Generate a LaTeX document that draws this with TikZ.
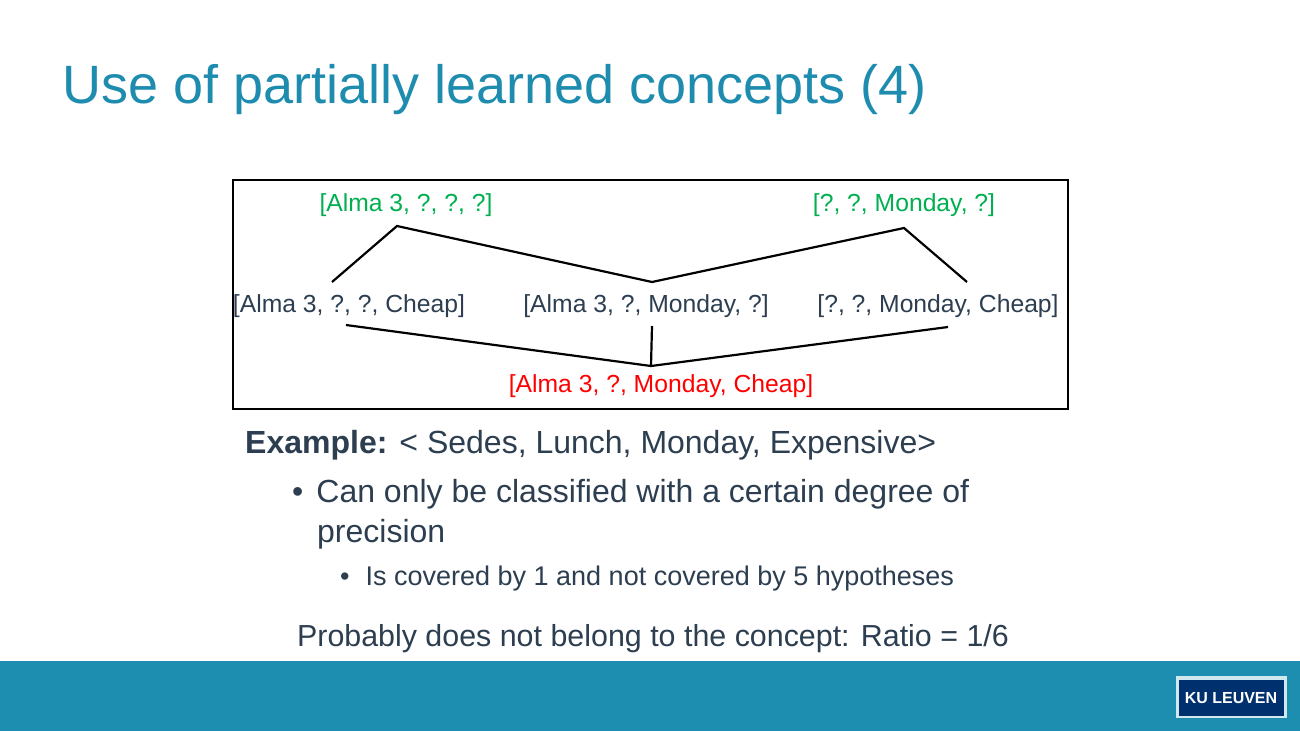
\documentclass[tikz,border=0pt]{standalone}
\usepackage{fontspec}
\setmainfont{Liberation Sans}
\begin{document}
\begin{tikzpicture}[x=1pt,y=-1pt,
  lbl/.style={anchor=center,inner sep=0pt,font=\fontsize{24.7}{28}\selectfont},
  ln/.style={line width=2.2pt,black},
  body/.style={anchor=west,inner sep=0pt,text=slate}]
\definecolor{teal}{RGB}{30,140,175}
\definecolor{slate}{RGB}{44,62,80}
\definecolor{grn}{RGB}{0,176,80}
\definecolor{kub}{RGB}{29,141,176}
\definecolor{kud}{RGB}{0,48,110}
\useasboundingbox (0,0) rectangle (1300,731);
\fill[white] (0,0) rectangle (1300,731);
\fill[kub] (0,661) rectangle (1300,731);
\node[body,text=teal,font=\fontsize{54}{58}\selectfont] (title) at (62,90) {Use of partially learned concepts (4)};
\draw[line width=2pt] (233,180) rectangle (1068,409);
\node[lbl,text=grn] (g1) at (406,205) {[Alma 3, ?, ?, ?]};
\node[lbl,text=grn] (g2) at (904,205) {[?, ?, Monday, ?]};
\node[lbl,text=slate] (m1) at (349,306) {[Alma 3, ?, ?, Cheap]};
\node[lbl,text=slate] (m2) at (646,306) {[Alma 3, ?, Monday, ?]};
\node[lbl,text=slate] (m3) at (938,306) {[?, ?, Monday, Cheap]};
\node[lbl,text=red] (s) at (661,386) {[Alma 3, ?, Monday, Cheap]};
\coordinate (ga) at (397,226); \coordinate (gb) at (904,228);
\coordinate (mt) at (652,282);
\coordinate (a1) at (332,282); \coordinate (a3) at (967,282);
\coordinate (b1) at (346,325); \coordinate (b2) at (652,326); \coordinate (b3) at (948,327);
\coordinate (sb) at (651,366);
\draw[ln] (a1) -- (ga) -- (mt) -- (gb) -- (a3);
\draw[ln] (b1) -- (sb) -- (b3);
\draw[ln] (b2) -- (sb);
\node[body,font=\fontsize{32}{36}\selectfont] (ex) at (245,445) {\textbf{Example:}\hspace{12pt}< Sedes, Lunch, Monday, Expensive>};
\node[body,font=\fontsize{32}{36}\selectfont] (b1t) at (292,494) {•\hspace{13pt}Can only be classified with a certain degree of};
\node[body,font=\fontsize{32}{36}\selectfont] (b1u) at (317,534) {precision};
\node[body,font=\fontsize{27}{30}\selectfont] (b2t) at (340,579) {•\hspace{16pt}Is covered by 1 and not covered by 5 hypotheses};
\node[anchor=center,inner sep=0pt,text=slate,font=\fontsize{30.4}{34}\selectfont] (pr) at (653,639) {Probably does not belong to the concept: Ratio = 1/6};
\fill[white!80!kub] (1176,676) rectangle (1287,718);
\fill[kud] (1179,680) rectangle (1284,716);
\node[anchor=center,text=white,font=\bfseries\fontsize{16}{18}\selectfont] (logo) at (1231,698) {KU LEUVEN};
\end{tikzpicture}
\end{document}
